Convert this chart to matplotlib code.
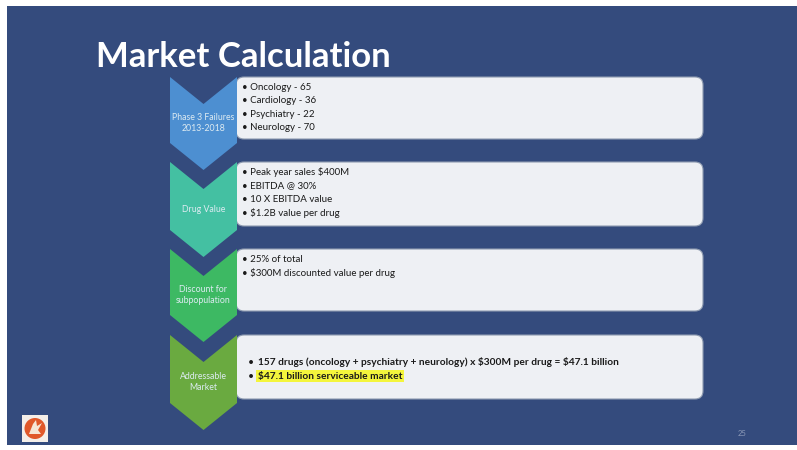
import matplotlib
matplotlib.use("Agg")
import matplotlib.pyplot as plt
from matplotlib.patches import Polygon, FancyBboxPatch, Rectangle, Circle

plt.rcParams["text.parse_math"] = False

# ---- content ----
title = "Market Calculation"
stages = ["Phase 3 Failures\n2013-2018", "Drug Value", "Discount for\nsubpopulation", "Addressable\nMarket"]
failure_areas = ["Oncology", "Cardiology", "Psychiatry", "Neurology"]
failure_counts = [65, 36, 22, 70]
drug_value_points = ["Peak year sales $400M", "EBITDA @ 30%", "10 X EBITDA value", "$1.2B value per drug"]
discount_points = ["25% of total", "$300M discounted value per drug"]
market_points = ["157 drugs (oncology + psychiatry + neurology) x $300M per drug = $47.1 billion",
                 "$47.1 billion serviceable market"]
page_number = "25"

# ---- style ----
BG = "#344B7D"
stage_colors = ["#4D8FD1", "#44C0A2", "#3DB963", "#6AAA40"]
BOX_FILL = "#EEF0F4"

fig = plt.figure(figsize=(7.97, 4.5), dpi=100)
fig.patch.set_facecolor("white")
ax = fig.add_axes([0, 0, 1, 1])
ax.set_xlim(0, 797)
ax.set_ylim(450, 0)
ax.axis("off")

ax.add_patch(Rectangle((7, 6), 790, 439, facecolor=BG, edgecolor="none", zorder=0))

ax.text(96, 57, title, fontsize=25, fontweight="bold", color="white",
        family="Lato", va="center", ha="left", zorder=5, parse_math=False)

box_tops = [77, 162, 249, 335]
box_bots = [139, 226, 311, 399]
xl, xr = 170, 237
xc = (xl + xr) / 2
depth = 27

box_lines = [
    [f"• {a} - {c}" for a, c in zip(failure_areas, failure_counts)],
    ["• " + s for s in drug_value_points],
    ["• " + s for s in discount_points],
]

for i, (t, b) in enumerate(zip(box_tops, box_bots)):
    # box
    ax.add_patch(FancyBboxPatch((236, t), 703 - 236, b - t,
                                boxstyle="round,pad=0,rounding_size=8",
                                facecolor=BOX_FILL, edgecolor="#8E9BB0", linewidth=0.8, zorder=2))
    # chevron
    pts = [(xl, t), (xc, t + depth), (xr, t), (xr, b + 4), (xc, b + 4 + depth), (xl, b + 4)]
    ax.add_patch(Polygon(pts, closed=True, facecolor=stage_colors[i], edgecolor="none", zorder=3))
    ax.text(xc, (t + b) / 2 + 15, stages[i], fontsize=6.3, color="#DDEBF2", family="Lato",
            ha="center", va="center", linespacing=1.2, zorder=4, parse_math=False)

line_h = 13.6
for i, lines in enumerate(box_lines):
    y0 = box_tops[i] + 10
    for j, s in enumerate(lines):
        ax.text(242, y0 + j * line_h, s, fontsize=7, color="#1A1A1A", family="Lato",
                ha="left", va="center", zorder=5, parse_math=False)

# addressable market box
t4 = box_tops[3]
for j, s in enumerate(market_points):
    y = t4 + 27 + j * 14
    ax.text(248, y, "•", fontsize=7.5, color="#1A1A1A", family="Lato", ha="left", va="center",
            zorder=5, parse_math=False)
    kw = {}
    if j == 1:
        kw["bbox"] = dict(boxstyle="square,pad=0.15", facecolor="#F4F53C", edgecolor="none")
    ax.text(258, y, s, fontsize=7.3, fontweight="bold", color="#1A1A1A", family="Lato",
            ha="left", va="center", zorder=5, parse_math=False, **kw)

# logo
ax.add_patch(Rectangle((22, 415), 26, 27, facecolor="#F4EEE8", edgecolor="none", zorder=3))
ax.add_patch(Circle((35, 428.5), 10.5, facecolor="#E0582A", edgecolor="none", zorder=4))
ax.add_patch(Polygon([(29, 434), (33, 424), (36, 420), (37, 426), (42, 423), (38, 430), (41, 434)],
                     closed=True, facecolor="#F6E6D6", edgecolor="none", zorder=5))

ax.text(742, 433, page_number, fontsize=5.5, color="#8C9AB8", family="Lato",
        ha="center", va="center", zorder=5, parse_math=False)

fig.savefig("out.png", dpi=100, facecolor="white")
